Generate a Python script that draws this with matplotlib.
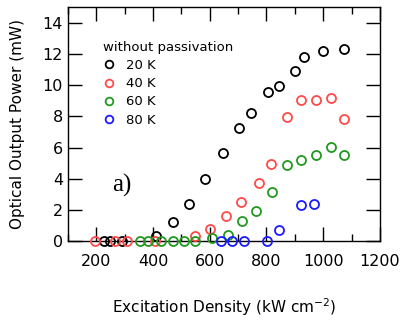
import numpy as np
import matplotlib
matplotlib.use("Agg")
import matplotlib.pyplot as plt
from matplotlib.ticker import MultipleLocator

x_20K = [226, 249, 290, 410, 470, 526, 582, 646, 702, 747, 805, 843, 902, 932, 999, 1072]
y_20K = [0, 0, 0, 0.3, 1.23, 2.36, 4.0, 5.64, 7.26, 8.2, 9.58, 9.95, 10.93, 11.82, 12.2, 12.31]

x_40K = [196, 267, 308, 407, 547, 602, 657, 709, 774, 815, 874, 923, 974, 1026, 1073]
y_40K = [0, 0, 0, 0, 0.3, 0.75, 1.6, 2.5, 3.73, 4.92, 7.94, 9.05, 9.05, 9.18, 7.84]

x_60K = [355, 381, 428, 470, 511, 547, 609, 664, 715, 764, 821, 874, 921, 976, 1026, 1073]
y_60K = [0, 0, 0, 0, 0, 0, 0.17, 0.38, 1.3, 1.94, 3.15, 4.86, 5.22, 5.5, 6.03, 5.5]

x_80K = [641, 680, 720, 803, 845, 921, 968]
y_80K = [0, 0, 0, 0, 0.7, 2.34, 2.4]

series = [
    (x_20K, y_20K, "20 K", "black"),
    (x_40K, y_40K, "40 K", "#ff4a4a"),
    (x_60K, y_60K, "60 K", "#1f9a1f"),
    (x_80K, y_80K, "80 K", "#1a1aff"),
]

plt.rcParams["font.family"] = "DejaVu Sans"

fig = plt.figure(figsize=(4.09, 3.25), dpi=100)
ax = fig.add_axes([0.166, 0.258, 0.763, 0.72])

for xs, ys, lab, col in series:
    ax.plot(xs, ys, "o", ms=6.5, mfc="none", mec=col, mew=1.3,
            label=lab, clip_on=False, zorder=3)

ax.set_xlim(100, 1200)
ax.set_ylim(0, 15)
ax.xaxis.set_major_locator(MultipleLocator(200))
ax.xaxis.set_minor_locator(MultipleLocator(100))
ax.yaxis.set_major_locator(MultipleLocator(2))
ax.tick_params(which="both", direction="in", top=True, right=True,
               labelsize=11.5, width=1)
ax.tick_params(which="major", length=10)
ax.tick_params(which="minor", length=5)
ax.tick_params(axis="x", pad=9)
ax.set_xticks([200, 400, 600, 800, 1000, 1200])
for sp in ax.spines.values():
    sp.set_linewidth(1)

ax.set_xlabel("Excitation Density (kW cm$^{-2}$)", fontsize=11, labelpad=20)
ax.set_ylabel("Optical Output Power (mW)", fontsize=11, labelpad=13)

leg = ax.legend(title="without passivation", frameon=False, loc="upper left",
                bbox_to_anchor=(0.09, 0.885), fontsize=9.5, title_fontsize=9.5,
                handlelength=1.0, handletextpad=0.8, labelspacing=0.4,
                borderpad=0, alignment="left", markerscale=0.85)

ax.text(0.143, 0.24, "a)", transform=ax.transAxes, fontsize=18,
        family="Liberation Serif", va="center", ha="left")

plt.savefig("out.png", dpi=100)
plt.close()
